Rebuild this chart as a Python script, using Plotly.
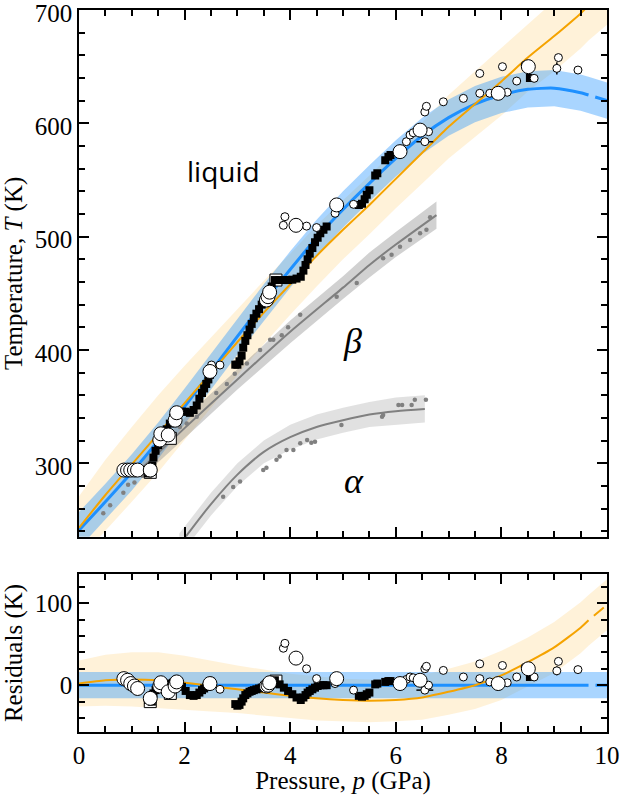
import plotly.graph_objects as go

# ---------------- fitted curves ----------------
P_GRID = [0, 0.5, 1, 1.5, 2, 2.5, 3, 3.5, 4, 4.5, 5, 5.5, 6, 6.5, 7, 7.5, 8, 8.5, 9, 9.5, 9.65, 10]
BLUE_T = [241, 266, 292, 320, 350, 381, 412, 442, 471, 499, 524, 547, 569, 589, 605, 617, 625, 630, 631, 627, 625, 620]
BLUE_ERR = [16] * len(P_GRID)
ORANGE_T = [243, 272, 299, 326, 353, 380, 407, 433, 458, 483, 506, 528, 551, 574, 597, 617, 637, 658, 677, 697, 704, 718]
ORANGE_RES = [2, 6, 7, 6, 3, -1, -5, -9, -13, -16, -18, -19, -18, -15, -8, 0, 12, 28, 46, 70, 79, 98]
ORANGE_ERR = [28, 31, 33, 34, 33, 31, 29, 28, 27, 27, 26, 26, 26, 27, 28, 29, 30, 30, 31, 31, 31, 31]
BLUE_RES = [0] * len(P_GRID)
DASH_FROM = 9.65

BETA_P = [1.2, 2.0, 3.0, 4.0, 5.0, 5.5, 6.0, 6.77]
BETA_T = [296, 331, 374, 416, 455, 475, 493, 519]
BETA_ERR = [8, 9, 9, 10, 10, 11, 11, 12]
ALPHA_P = [1.9, 2.0, 2.5, 3.0, 3.5, 4.0, 4.5, 5.0, 5.5, 6.0, 6.55]
ALPHA_T = [228, 234, 264, 290, 310, 323, 332, 338, 343, 346, 348]
ALPHA_ERR = [10, 10, 10, 10, 10, 11, 11, 11, 11, 12, 12]

# ---------------- data points ----------------
SQ_P = [1.31, 1.38, 1.39, 1.41, 1.45, 1.50, 1.55, 1.60, 1.66, 1.72, 1.78, 1.86, 1.95, 2.02, 2.10, 2.17,
        2.23, 2.28, 2.33, 2.37, 2.41, 2.45, 2.48,
        2.96, 3.00, 3.04, 3.08, 3.11, 3.15, 3.19, 3.23, 3.27, 3.31, 3.36, 3.41, 3.46, 3.51, 3.58, 3.65,
        3.71, 3.80, 3.88, 3.96, 4.04, 4.12, 4.20, 4.25, 4.29, 4.33, 4.37, 4.42, 4.47, 4.52, 4.57, 4.63, 4.69,
        5.30, 5.36, 5.41, 5.45, 5.50, 5.61, 5.65, 5.80, 5.86, 5.90, 8.54]
SQ_T = [291, 293, 298, 305, 311, 316, 320, 325, 330, 335, 340, 344, 345.5, 345.5, 344.5, 347,
        351, 357, 362, 366, 370, 374, 378,
        387, 387, 390, 395, 402, 408, 413, 418, 423, 428, 432, 436, 440, 444, 450, 456,
        461.7, 461.7, 461.7, 461.7, 462, 463, 464.6, 470, 475, 480, 485, 490, 495, 499, 503, 506, 509,
        528, 529, 533, 537, 541, 554, 556, 567.5, 570.5, 572, 640]
SQ_RES = [-18, -20, -16, -10, -6, -4, -3, -1, 0, 2, 3, 2, -2, -7, -12, -13,
          -12, -9, -6, -4, -2, -1, 0,
          -23, -25, -24, -20, -16, -12, -10, -8, -7, -6, -5, -4, -3, -1, 1, 4,
          6, 1, -3, -7, -11, -15, -18, -15, -12, -9, -7, -5, -3, -1, 0, 0, 0,
          -13, -14, -13, -11, -9, 1, 2, 4, 5, 5, 10]

OSQ_P = [1.35, 1.73, 3.73]
OSQ_T = [292, 322, 461.7]
OSQ_RES = [-20, -10, 5]

SC_P = [2.51, 2.67, 3.87, 3.90, 4.31, 4.50, 4.85, 5.20, 6.20, 6.27, 6.33, 6.55, 6.58, 6.62, 6.90,
        7.28, 7.59, 7.78, 7.59, 8.02, 8.29, 8.11, 8.62, 8.45, 9.08, 9.45]
SC_T = [386.7, 386.7, 510, 517.6, 509.3, 508, 520.6, 528.5, 583.8, 589.7, 591.7, 610, 615, 592.6, 619,
        622, 626.5, 626.5, 644, 650, 637.3, 627.4, 639.7, 651.5, 658, 647]
SC_RES = [5, -5, 45, 51, 20, 8, 2, -6, 7, 10, 9, 20, 23, 0, 18,
          10, 8, 4, 26, 24, 10, 3, 10, 22, 29, 19]

EB_P = [6.55, 9.05]
EB_T = [583.8, 648.5]
EB_RES = [-6, 17.5]
EB_PERR = [0.16, 0]
EB_TERR = [0, 5.5]

LC_P = [0.85, 0.92, 0.98, 1.05, 1.11, 1.35, 1.53, 1.55, 1.69, 1.82, 1.85, 2.48, 3.55, 3.58, 3.61,
        4.11, 4.88, 6.08, 6.46, 7.94, 8.51]
LC_T = [294, 294, 294, 294, 294, 294, 320.5, 326, 325, 338, 344.6, 381, 444, 447, 451,
        510, 528, 575, 594, 626.5, 650]
LC_RES = [8, 6, 2, -1, -4, -16, -1, 3, -8, -1, 4, 2, -1, 0, 3,
          33, 8, 2, 6, 2, 20]

BETA_DOT_P = [0.46, 0.59, 0.84, 0.93, 1.05, 1.20, 1.91, 2.04, 2.23, 2.60, 2.80, 2.95, 3.18, 3.43, 3.62,
              3.68, 3.84, 3.96, 4.19, 4.88, 5.26, 5.76, 5.92, 6.08, 6.27, 6.46, 6.58, 6.65]
BETA_DOT_T = [256, 263, 274, 281, 283, 289, 332, 335, 341, 362, 370, 379, 388, 400, 409,
              409, 413, 420, 431, 447, 459, 481, 484, 491, 497, 503, 506, 517]
ALPHA_DOT_P = [2.73, 2.92, 3.05, 3.49, 3.55, 3.74, 3.80, 3.93, 4.06, 4.19, 4.32, 4.40, 4.47, 4.97,
               5.74, 5.76, 6.05, 6.12, 6.30, 6.36, 6.57]
ALPHA_DOT_T = [270.5, 279, 284, 294, 296, 303, 306, 311.6, 311.6, 317.6, 320.5, 318, 319, 333.8,
               341, 342.5, 351.4, 351.4, 351.4, 356, 356]

# ---------------- styling ----------------
BLUE = "#1e90ff"
BLUE_FILL = "rgba(30,144,255,0.38)"
ORANGE = "#f5a300"
ORANGE_FILL = "rgba(255,165,0,0.15)"
GRAY = "#808080"
SERIF = "Liberation Serif, Times New Roman, serif"

fig = go.Figure()


def band(xs, ys, errs, color, xa, ya):
    hi = [y + e for y, e in zip(ys, errs)]
    lo = [y - e for y, e in zip(ys, errs)]
    fig.add_trace(go.Scatter(x=list(xs) + list(xs)[::-1], y=hi + lo[::-1], fill="toself",
                             fillcolor=color, line=dict(width=0), mode="lines",
                             hoverinfo="skip", xaxis=xa, yaxis=ya, showlegend=False))


def split_line(xs, ys, color, width, xa, ya):
    sx = [x for x in xs if x <= DASH_FROM]
    sy = [y for x, y in zip(xs, ys) if x <= DASH_FROM]
    dx = [x for x in xs if x >= DASH_FROM]
    dy = [y for x, y in zip(xs, ys) if x >= DASH_FROM]
    fig.add_trace(go.Scatter(x=sx, y=sy, mode="lines", line=dict(color=color, width=width, shape="spline", smoothing=0.6),
                             xaxis=xa, yaxis=ya, showlegend=False))
    fig.add_trace(go.Scatter(x=dx, y=dy, mode="lines", line=dict(color=color, width=width, dash="0px,7px,13px,0px"),
                             xaxis=xa, yaxis=ya, showlegend=False))


def points(xs, ys, xa, ya, symbol, size, fill, lw, lc="black", err_x=None, err_y=None):
    kw = {}
    if err_x is not None:
        kw["error_x"] = dict(type="data", array=err_x, visible=True, color="black", thickness=1.5, width=0)
    if err_y is not None:
        kw["error_y"] = dict(type="data", array=err_y, visible=True, color="black", thickness=1.5, width=0)
    fig.add_trace(go.Scatter(x=xs, y=ys, mode="markers",
                             marker=dict(symbol=symbol, size=size, color=fill, line=dict(color=lc, width=lw)),
                             xaxis=xa, yaxis=ya, showlegend=False, **kw))


# ---------- top panel ----------
band(P_GRID, ORANGE_T, ORANGE_ERR, ORANGE_FILL, "x", "y")
band(P_GRID, BLUE_T, BLUE_ERR, BLUE_FILL, "x", "y")
band(BETA_P, BETA_T, BETA_ERR, "rgba(128,128,128,0.36)", "x", "y")
band(ALPHA_P, ALPHA_T, ALPHA_ERR, "rgba(128,128,128,0.24)", "x", "y")
fig.add_trace(go.Scatter(x=BETA_P, y=BETA_T, mode="lines", line=dict(color=GRAY, width=2, shape="spline", smoothing=0.6),
                         xaxis="x", yaxis="y", showlegend=False))
fig.add_trace(go.Scatter(x=ALPHA_P, y=ALPHA_T, mode="lines", line=dict(color=GRAY, width=2, shape="spline", smoothing=0.8),
                         xaxis="x", yaxis="y", showlegend=False))
points(BETA_DOT_P, BETA_DOT_T, "x", "y", "circle", 4.5, GRAY, 0)
points(ALPHA_DOT_P, ALPHA_DOT_T, "x", "y", "circle", 4.5, GRAY, 0)
split_line(P_GRID, BLUE_T, BLUE, 3, "x", "y")
split_line(P_GRID, ORANGE_T, ORANGE, 2, "x", "y")
points(OSQ_P, OSQ_T, "x", "y", "square", 12, "white", 1)
points(SQ_P, SQ_T, "x", "y", "square", 8, "black", 0)
points(EB_P, EB_T, "x", "y", "circle", 8, "white", 1, err_x=EB_PERR, err_y=EB_TERR)
points(SC_P, SC_T, "x", "y", "circle", 8, "white", 1)
points(LC_P, LC_T, "x", "y", "circle", 14, "white", 1)

# ---------- residual panel ----------
band(P_GRID, ORANGE_RES, ORANGE_ERR, ORANGE_FILL, "x2", "y2")
band(P_GRID, BLUE_RES, BLUE_ERR, BLUE_FILL, "x2", "y2")
split_line(P_GRID, BLUE_RES, BLUE, 3, "x2", "y2")
split_line(P_GRID, ORANGE_RES, ORANGE, 2, "x2", "y2")
points(OSQ_P, OSQ_RES, "x2", "y2", "square", 12, "white", 1)
points(SQ_P, SQ_RES, "x2", "y2", "square", 8, "black", 0)
points(EB_P, EB_RES, "x2", "y2", "circle", 8, "white", 1, err_x=EB_PERR, err_y=EB_TERR)
points(SC_P, SC_RES, "x2", "y2", "circle", 8, "white", 1)
points(LC_P, LC_RES, "x2", "y2", "circle", 14, "white", 1)

axis_common = dict(showline=True, linecolor="black", linewidth=1.5, mirror="allticks",
                   ticks="inside", ticklen=10, tickwidth=1.5, tickcolor="black",
                   showgrid=False, zeroline=False, automargin=False, ticklabeloverflow="allow",
                   tickfont=dict(family=SERIF, size=25, color="black"))
TITLE_FONT = dict(family=SERIF, size=25, color="black")

fig.update_layout(
    width=622, height=795,
    margin=dict(l=79, r=15, t=10, b=63),
    paper_bgcolor="white", plot_bgcolor="white",
    showlegend=False,
    xaxis=dict(domain=[0, 1], anchor="y", range=[0, 10], dtick=2, showticklabels=False,
               minor=dict(dtick=0.5, ticklen=6, tickwidth=1.5, tickcolor="black", ticks="inside"),
               **axis_common),
    yaxis=dict(domain=[0.2705, 1], anchor="x", range=[235.2, 700], dtick=100, tick0=0, ticklabelshift=3,
               minor=dict(dtick=20, ticklen=6, tickwidth=1.5, tickcolor="black", ticks="inside"),
               title=dict(text="Temperature, <i>T</i> (K)", font=TITLE_FONT, standoff=6),
               **axis_common),
    xaxis2=dict(domain=[0, 1], anchor="y2", range=[0, 10], dtick=2, matches="x",
                minor=dict(dtick=0.5, ticklen=6, tickwidth=1.5, tickcolor="black", ticks="inside"),
                title=dict(text="Pressure, <i>p</i> (GPa)", font=TITLE_FONT, standoff=8),
                **axis_common),
    yaxis2=dict(domain=[0, 0.2188], anchor="x2", range=[-57, 135.4], dtick=100, tick0=0,
                minor=dict(dtick=20, ticklen=6, tickwidth=1.5, tickcolor="black", ticks="inside"),
                title=dict(text="Residuals (K)", font=TITLE_FONT, standoff=6),
                **axis_common),
    annotations=[
        dict(x=2.73, y=558, xref="x", yref="y", text="liquid", showarrow=False,
             font=dict(family="Open Sans, DejaVu Sans, sans-serif", size=28, color="black")),
        dict(x=5.18, y=408, xref="x", yref="y", text="<i>β</i>", showarrow=False,
             font=dict(family=SERIF, size=36, color="black")),
        dict(x=5.2, y=284, xref="x", yref="y", text="<i>α</i>", showarrow=False,
             font=dict(family=SERIF, size=36, color="black")),
    ],
)

fig.write_html("out.html")
